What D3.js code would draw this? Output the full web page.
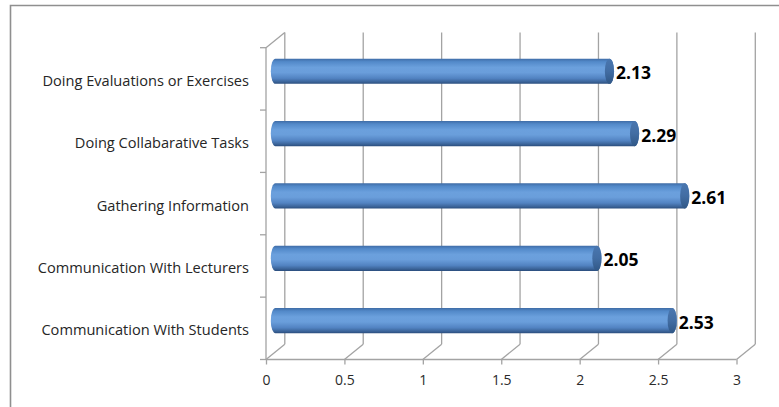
<!DOCTYPE html>
<html>
<head>
<meta charset="utf-8">
<script src="https://cdn.jsdelivr.net/npm/d3@7"></script>
<style>
  html, body { margin: 0; padding: 0; background: #fff; }
  svg { display: block; }
</style>
</head>
<body>
<svg id="chart" width="779" height="407"></svg>
<script>
// Categories listed bottom-to-top as they appear on the vertical axis
const categories = [
  "Communication With Students",
  "Communication With Lecturers",
  "Gathering Information",
  "Doing Collabarative Tasks",
  "Doing Evaluations or Exercises"
];
const values = [2.53, 2.05, 2.61, 2.29, 2.13];
const xTicks = [0, 0.5, 1, 1.5, 2, 2.5, 3];

const svg = d3.select("#chart");

// Front plane of the 3-D plot area and the depth offset to the back wall
const x = d3.scaleLinear().domain([0, 3]).range([266, 736.5]);
const y = d3.scaleBand().domain(categories.slice().reverse()).range([47.7, 359.5]).paddingInner(0).paddingOuter(0);
const depth = { dx: 18.8, dy: -15.3 };
const gridColor = "#a3a3a3";

// Outer chart border (right and bottom edges run past the frame)
svg.append("path")
  .attr("d", "M10.5,410 V5.5 H790")
  .attr("fill", "none").attr("stroke", "#8f8f8f").attr("stroke-width", 1.6);

const yTop = y.range()[0], yBot = y.range()[1];

// Back-wall vertical gridlines and floor diagonals at each tick
const grid = svg.append("g").attr("stroke", gridColor).attr("stroke-width", 1.3).attr("fill", "none");
xTicks.forEach(t => {
  const fx = x(t);
  grid.append("line")
    .attr("x1", fx + depth.dx).attr("x2", fx + depth.dx)
    .attr("y1", yTop + depth.dy).attr("y2", yBot + depth.dy);
  grid.append("line")
    .attr("x1", fx).attr("y1", yBot)
    .attr("x2", fx + depth.dx).attr("y2", yBot + depth.dy);
});

// Left wall: front edge of the category axis and its top diagonal
grid.append("line").attr("x1", x(0)).attr("x2", x(0)).attr("y1", yTop).attr("y2", yBot);
grid.append("line").attr("x1", x(0)).attr("y1", yTop).attr("x2", x(0) + depth.dx).attr("y2", yTop + depth.dy);
// Floor front edge
grid.append("line").attr("x1", x(0)).attr("x2", x(3)).attr("y1", yBot).attr("y2", yBot);

// Category tick marks at band boundaries
const bounds = y.domain().map(c => y(c)).concat([yBot]);
bounds.forEach(b => {
  grid.append("line").attr("x1", x(0) - 6).attr("x2", x(0)).attr("y1", b).attr("y2", b);
});

// Value axis: ticks and labels
const xAxis = d3.axisBottom(x).tickValues(xTicks).tickSize(5).tickSizeOuter(0).tickFormat(d3.format("~g"));
const ax = svg.append("g").attr("transform", `translate(0,${yBot})`).call(xAxis);
ax.select(".domain").remove();
ax.selectAll(".tick line").attr("stroke", gridColor).attr("stroke-width", 1.3);
ax.selectAll(".tick text")
  .attr("y", 16)
  .attr("dy", "0.71em")
  .attr("fill", "#2b2b2b")
  .style("font-family", "'Open Sans', sans-serif")
  .style("font-size", "14px");

// Category labels
svg.append("g").selectAll("text")
  .data(categories)
  .join("text")
  .attr("x", 249)
  .attr("y", d => y(d) + y.bandwidth() / 2 + 1)
  .attr("text-anchor", "end")
  .attr("dominant-baseline", "central")
  .attr("fill", "#262626")
  .style("font-family", "'Open Sans', sans-serif")
  .style("font-size", "14.6px")
  .text(d => d);

// Cylinder shading
const defs = svg.append("defs");
const body = defs.append("linearGradient").attr("id", "cylBody").attr("x1", 0).attr("y1", 0).attr("x2", 0).attr("y2", 1);
[
  [0, "#3f6ca6"], [0.12, "#5289c9"], [0.35, "#6ba0dd"], [0.55, "#6a9edb"],
  [0.78, "#5283c2"], [0.92, "#3b6499"], [1, "#2a4d7d"]
].forEach(([o, c]) => body.append("stop").attr("offset", o).attr("stop-color", c));
const cap = defs.append("linearGradient").attr("id", "cylCap").attr("x1", 0).attr("y1", 0).attr("x2", 0).attr("y2", 1);
[[0, "#4a77b0"], [0.5, "#426da3"], [1, "#305786"]]
  .forEach(([o, c]) => cap.append("stop").attr("offset", o).attr("stop-color", c));

const r = 12.6, rx = 4.6;
const bars = svg.append("g");
categories.forEach((c, i) => {
  const v = values[i];
  const cy = y(c) + y.bandwidth() / 2 + depth.dy / 2;
  const x0 = x(0) + depth.dx / 2;
  const x1 = x(v) + depth.dx / 2;
  bars.append("path")
    .attr("d", `M${x0},${cy - r} H${x1} A${rx},${r} 0 0 1 ${x1},${cy + r} H${x0} A${rx},${r} 0 0 1 ${x0},${cy - r} Z`)
    .attr("fill", "url(#cylBody)");
  bars.append("ellipse")
    .attr("cx", x1).attr("cy", cy).attr("rx", rx).attr("ry", r)
    .attr("fill", "url(#cylCap)");
  bars.append("text")
    .attr("x", x1 + rx + 2)
    .attr("y", cy + 1)
    .attr("dominant-baseline", "central")
    .attr("fill", "#000")
    .style("font-family", "'Open Sans', sans-serif")
    .style("font-weight", "bold")
    .style("font-size", "17.5px")
    .text(d3.format(".2f")(v));
});
</script>
</body>
</html>
